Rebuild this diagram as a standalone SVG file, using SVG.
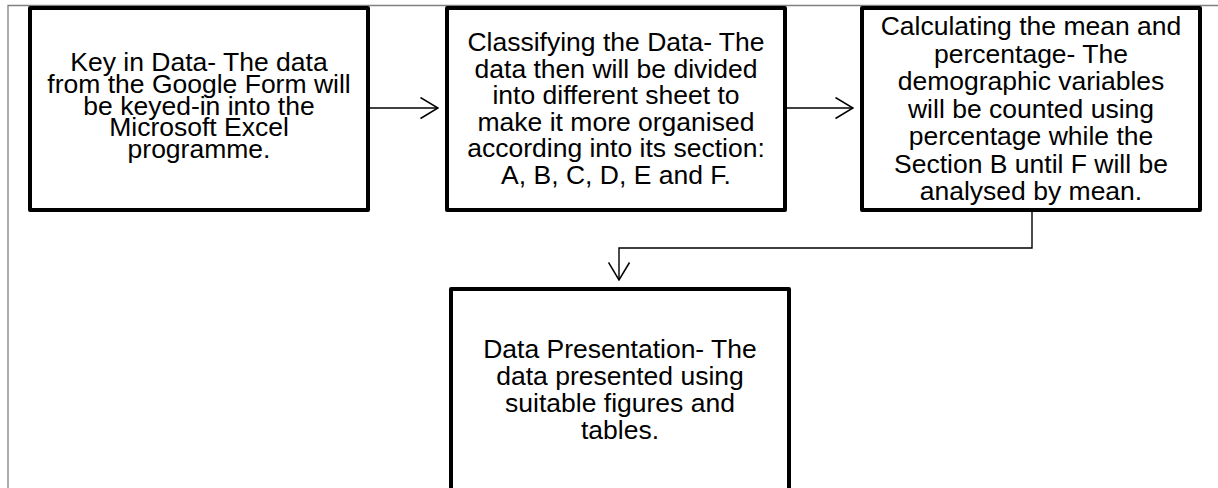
<svg xmlns="http://www.w3.org/2000/svg" width="1218" height="488" viewBox="0 0 1218 488">
  <style>
    .box { fill: #ffffff; stroke: #000000; stroke-width: 4; stroke-linejoin: round; }
    .lbl { font-family: "Liberation Sans", Arial, sans-serif; font-size: 26.5px; fill: #000000; text-anchor: middle; }
    .conn { fill: none; stroke: #000000; stroke-width: 1.4; }
    .frame { fill: none; stroke: #808080; stroke-width: 1.3; }
  </style>
  <defs>
    <marker id="arrow" markerUnits="userSpaceOnUse" viewBox="0 0 19 23" refX="18" refY="11.5" markerWidth="19" markerHeight="23" orient="auto">
      <path d="M0.5,1 L18,11.5 L0.5,22" fill="none" stroke="#000000" stroke-width="1.5"/>
    </marker>
  </defs>
  <rect width="1218" height="488" fill="#ffffff"/>
  <g id="frame">
    <path class="frame" d="M8,488 V5.5 H1218"/>
  </g>
  <g id="connectors">
    <path class="conn" d="M370,108 H438" marker-end="url(#arrow)"/>
    <path class="conn" d="M787,108 H853" marker-end="url(#arrow)"/>
    <path class="conn" d="M1032,212 V248 H619 V280" marker-end="url(#arrow)"/>
  </g>
  <g id="node1">
    <rect class="box" x="30" y="8" width="338" height="202"/>
    <text class="lbl" x="199" y="71">Key in Data- The data</text>
    <text class="lbl" x="199" y="92.8">from the Google Form will</text>
    <text class="lbl" x="199" y="114.6">be keyed-in into the</text>
    <text class="lbl" x="199" y="136.4">Microsoft Excel</text>
    <text class="lbl" x="199" y="158">programme.</text>
  </g>
  <g id="node2">
    <rect class="box" x="447" y="8" width="338" height="202"/>
    <text class="lbl" x="616" y="51">Classifying the Data- The</text>
    <text class="lbl" x="616" y="77.5">data then will be divided</text>
    <text class="lbl" x="616" y="104">into different sheet to</text>
    <text class="lbl" x="616" y="130.5">make it more organised</text>
    <text class="lbl" x="616" y="157">according into its section:</text>
    <text class="lbl" x="616" y="183.5">A, B, C, D, E and F.</text>
  </g>
  <g id="node3">
    <rect class="box" x="862" y="8" width="338" height="202"/>
    <text class="lbl" x="1031" y="35">Calculating the mean and</text>
    <text class="lbl" x="1031" y="62.5">percentage- The</text>
    <text class="lbl" x="1031" y="90">demographic variables</text>
    <text class="lbl" x="1031" y="117.5">will be counted using</text>
    <text class="lbl" x="1031" y="145">percentage while the</text>
    <text class="lbl" x="1031" y="172.5">Section B until F will be</text>
    <text class="lbl" x="1031" y="200">analysed by mean.</text>
  </g>
  <g id="node4">
    <rect class="box" x="451" y="289" width="338" height="230"/>
    <text class="lbl" x="620" y="358">Data Presentation- The</text>
    <text class="lbl" x="620" y="385">data presented using</text>
    <text class="lbl" x="620" y="412">suitable figures and</text>
    <text class="lbl" x="620" y="439">tables.</text>
  </g>
</svg>
